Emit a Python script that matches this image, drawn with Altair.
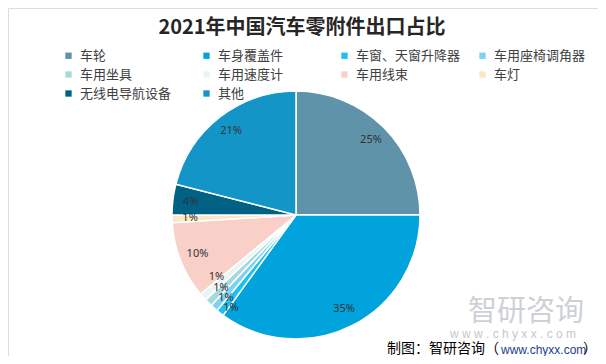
import altair as alt
import pandas as pd

categories = ["车轮", "车身覆盖件", "车窗、天窗升降器", "车用座椅调角器", "车用坐具",
              "车用速度计", "车用线束", "车灯", "无线电导航设备", "其他"]
values = [25, 35, 1, 1, 1, 1, 10, 1, 4, 21]
labels = ["25%", "35%", "1%", "1%", "1%", "1%", "10%", "1%", "4%", "21%"]
colors = ["#5f93aa", "#00a3dc", "#1fbff0", "#7fd1f5", "#a6d9d8",
          "#e9f5f5", "#f8d0c8", "#fbe7c4", "#006185", "#1495c8"]

df = pd.DataFrame({"cat": categories, "value": values, "label": labels,
                   "idx": list(range(len(categories)))})

CX, CY, R = 288, 207, 124
theta_scale = alt.Scale(domain=[0, sum(values)])

base = alt.Chart(df).transform_stack(
    stack="value", as_=["v0", "v1"], groupby=[],
    sort=[alt.SortField("idx", order="ascending")]
).transform_calculate(mid="(datum.v0 + datum.v1) / 2").encode(
    x=alt.value(CX), y=alt.value(CY))

pie = base.mark_arc(stroke="white", strokeWidth=1.5, radius=R).encode(
    theta=alt.Theta("v0:Q", scale=theta_scale),
    theta2="v1:Q",
    color=alt.Color("cat:N",
                    scale=alt.Scale(domain=categories, range=colors),
                    sort=categories,
                    legend=alt.Legend(
                        title=None, orient="none", legendX=54, legendY=41,
                        direction="horizontal",
                        columns=4, gridAlign="all", columnPadding=15,
                        rowPadding=5, symbolType="square", symbolSize=40,
                        symbolStrokeWidth=0, labelFontSize=13,
                        labelFont="Noto Sans CJK SC", labelColor="#404040",
                        labelOffset=5, labelLimit=200)),
)

label_style = dict(fontSize=11, color="#333333", font="Noto Sans", radius=106)
lab = base.encode(theta=alt.Theta("mid:Q", scale=theta_scale), text="label:N")
# labels of the larger slices
txt_main = lab.mark_text(**label_style).transform_filter(
    (alt.datum.idx < 2) | (alt.datum.idx > 5))
# the four thin slices: nudged apart, as in the reference
nudges = {2: 9, 3: 3, 4: -2, 5: -8}
txt_small = [
    lab.mark_text(dy=d, **label_style).transform_filter(alt.datum.idx == i)
    for i, d in nudges.items()
]

title = alt.Chart(pd.DataFrame({"t": ["2021年中国汽车零附件出口占比"]})).mark_text(
    fontSize=20, fontWeight="bold", font="Noto Sans CJK SC", color="#262626",
    align="center", baseline="middle").encode(
    x=alt.value(294), y=alt.value(20), text="t:N")

wm1 = alt.Chart(pd.DataFrame({"t": ["智研咨询"]})).mark_text(
    fontSize=29, font="Noto Sans CJK SC", color="#cdd1d6",
    align="center", baseline="middle").encode(
    x=alt.value(518), y=alt.value(304), text="t:N")
wm2 = alt.Chart(pd.DataFrame({"t": ["w w w . c h y x x . c o m"]})).mark_text(
    fontSize=12, font="Liberation Sans", color="#c4c8cc",
    align="center", baseline="middle").encode(
    x=alt.value(505), y=alt.value(326), text="t:N")

cr1 = alt.Chart(pd.DataFrame({"t": ["制图：智研咨询（"]})).mark_text(
    fontSize=14, font="Noto Sans CJK SC", color="#000000",
    align="left", baseline="middle").encode(
    x=alt.value(379), y=alt.value(341), text="t:N")
cr2 = alt.Chart(pd.DataFrame({"t": ["www.chyxx.com"]})).mark_text(
    fontSize=12, font="Liberation Sans", color="#1f3c8f",
    align="left", baseline="middle").encode(
    x=alt.value(493), y=alt.value(342), text="t:N")
cr3 = alt.Chart(pd.DataFrame({"t": ["）"]})).mark_text(
    fontSize=14, font="Noto Sans CJK SC", color="#000000",
    align="left", baseline="middle").encode(
    x=alt.value(575), y=alt.value(341), text="t:N")

chart = alt.layer(pie, txt_main, *txt_small, title, wm1, wm2, cr1, cr2, cr3).properties(
    width=590, height=348, autosize=alt.AutoSizeParams(type="none"), padding=0
).configure_view(strokeWidth=0).configure(background="white")

chart.save("out.html", embed_options={"renderer": "svg", "actions": False})
